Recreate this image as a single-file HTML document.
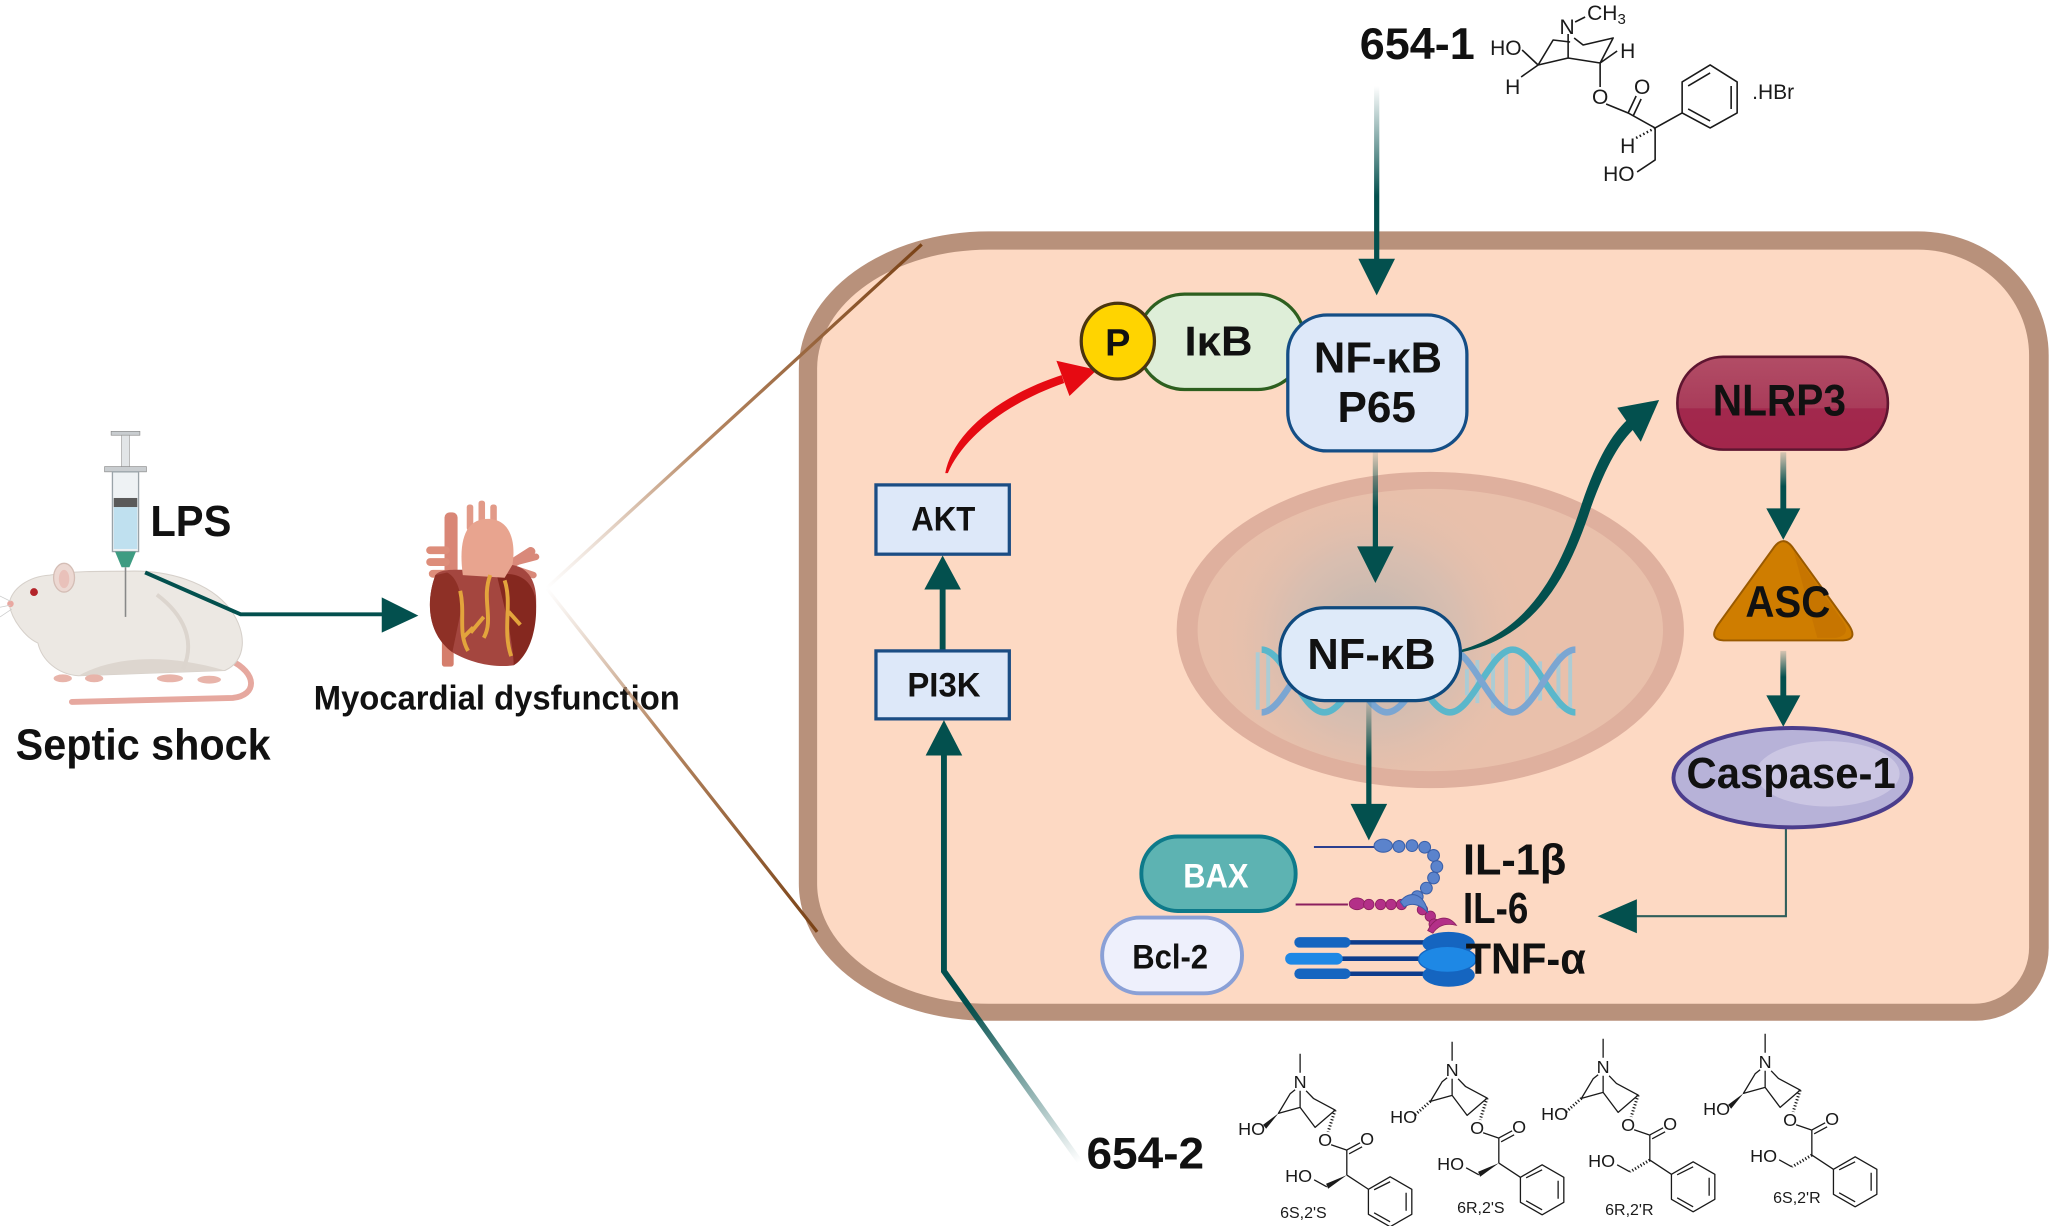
<!DOCTYPE html>
<html>
<head>
<meta charset="utf-8">
<style>
html,body{margin:0;padding:0;background:#fff;overflow:hidden;}
svg{display:block;}
.b{font-family:"Liberation Sans",Arial,sans-serif;font-weight:bold;fill:#111;}
.c{font-family:"Liberation Sans",Arial,sans-serif;fill:#1a1a1a;}
</style>
</head>
<body>
<svg xmlns="http://www.w3.org/2000/svg" width="2050" height="1226" viewBox="0 0 1568 938" preserveAspectRatio="none">
<defs>
<linearGradient id="g1" gradientUnits="userSpaceOnUse" x1="0" y1="66" x2="0" y2="150"><stop offset="0" stop-color="#03504e" stop-opacity="0"/><stop offset="1" stop-color="#03504e"/></linearGradient>
<linearGradient id="gP" gradientUnits="userSpaceOnUse" x1="0" y1="346" x2="0" y2="388"><stop offset="0" stop-color="#03504e" stop-opacity="0.1"/><stop offset="1" stop-color="#03504e"/></linearGradient>
<linearGradient id="gN" gradientUnits="userSpaceOnUse" x1="0" y1="537" x2="0" y2="580"><stop offset="0" stop-color="#03504e" stop-opacity="0.1"/><stop offset="1" stop-color="#03504e"/></linearGradient>
<linearGradient id="gL" gradientUnits="userSpaceOnUse" x1="0" y1="346" x2="0" y2="372"><stop offset="0" stop-color="#03504e" stop-opacity="0.15"/><stop offset="1" stop-color="#03504e"/></linearGradient>
<linearGradient id="gA" gradientUnits="userSpaceOnUse" x1="0" y1="498" x2="0" y2="518"><stop offset="0" stop-color="#03504e" stop-opacity="0.15"/><stop offset="1" stop-color="#03504e"/></linearGradient>
<linearGradient id="g2" gradientUnits="userSpaceOnUse" x1="826" y1="889" x2="740" y2="768"><stop offset="0" stop-color="#03504e" stop-opacity="0"/><stop offset="1" stop-color="#03504e"/></linearGradient>
<linearGradient id="br1" gradientUnits="userSpaceOnUse" x1="418" y1="450" x2="705" y2="187"><stop offset="0" stop-color="#c9a58a" stop-opacity="0"/><stop offset="0.4" stop-color="#b88a66"/><stop offset="1" stop-color="#7a4216"/></linearGradient>
<linearGradient id="br2" gradientUnits="userSpaceOnUse" x1="418" y1="450" x2="625" y2="713"><stop offset="0" stop-color="#c9a58a" stop-opacity="0"/><stop offset="0.4" stop-color="#b88a66"/><stop offset="1" stop-color="#7a4216"/></linearGradient>
<radialGradient id="glow" gradientUnits="userSpaceOnUse" cx="1050" cy="490" r="125"><stop offset="0" stop-color="#b5b4b2" stop-opacity="0.95"/><stop offset="0.55" stop-color="#c9bcb4" stop-opacity="0.5"/><stop offset="1" stop-color="#e8bfab" stop-opacity="0"/></radialGradient>
<linearGradient id="nl" x1="0" y1="0" x2="0" y2="1"><stop offset="0" stop-color="#b24d66"/><stop offset="0.55" stop-color="#a93c5a"/><stop offset="0.56" stop-color="#a2284d"/><stop offset="1" stop-color="#a2264b"/></linearGradient>
</defs>

<!-- ============ LEFT: rat, syringe, heart ============ -->
<path d="M176,505 C197,515 197,532 178,534 L55,537" fill="none" stroke="#e6a89f" stroke-width="4.5" stroke-linecap="round"/>
<path d="M7,462 C9,450 22,441 38,440 C55,437 75,437 98,437 C128,436 160,445 176,466 C190,485 188,506 172,513 L60,517 C44,516 32,505 29,492 C20,488 9,475 7,462Z" fill="#ece8e3" stroke="#d6d0ca" stroke-width="0.8"/>
<path d="M60,517 C85,503 125,499 172,513 Z" fill="#ddd6cf"/>
<path d="M120,455 C140,470 150,490 140,512" fill="none" stroke="#dcd5ce" stroke-width="3"/>
<ellipse cx="48" cy="519" rx="7" ry="3" fill="#e8b4aa"/>
<ellipse cx="72" cy="519" rx="7" ry="3" fill="#e8b4aa"/>
<ellipse cx="130" cy="519" rx="10" ry="3" fill="#e8b4aa"/>
<ellipse cx="160" cy="520" rx="9" ry="3" fill="#e8b4aa"/>
<ellipse cx="49" cy="442" rx="8" ry="11" fill="#ecd8d2" stroke="#d4bdb5" stroke-width="1"/>
<ellipse cx="49" cy="443" rx="4" ry="7" fill="#e9c1ba"/>
<circle cx="26" cy="453" r="3" fill="#b3242a"/>
<circle cx="8" cy="462" r="2.5" fill="#e9a7a0"/>
<path d="M8,460 L-2,455 M8,463 L-2,465 M9,466 L0,472" stroke="#ccc" stroke-width="0.6"/>

<!-- syringe -->
<rect x="85" y="330" width="22" height="3" fill="#c9cdd0" stroke="#888" stroke-width="0.5"/>
<rect x="93" y="333" width="6" height="25" fill="#e2e5e7" stroke="#999" stroke-width="0.5"/>
<rect x="80" y="357" width="32" height="4" fill="#c9cdd0" stroke="#888" stroke-width="0.5"/>
<rect x="86" y="361" width="20" height="61" fill="#eef2f4" stroke="#9aa3a8" stroke-width="1"/>
<rect x="87" y="381" width="18" height="7" fill="#5a5a5a"/>
<rect x="87" y="388" width="18" height="32" fill="#bfe0ef"/>
<path d="M88,422 L104,422 L99,434 L93,434Z" fill="#3e9c82"/>
<line x1="96" y1="434" x2="96" y2="472" stroke="#888" stroke-width="1.2"/>

<!-- rat -> heart arrow -->
<polyline points="111,438 184,470 294,470" fill="none" stroke="#03504e" stroke-width="3"/>
<polygon points="292,457 320,471 292,484" fill="#03504e"/>

<!-- heart -->
<rect x="340" y="392" width="10" height="48" rx="4" fill="#d98676"/>
<rect x="357" y="386" width="5" height="20" rx="2" fill="#e29a88"/>
<rect x="366" y="383" width="5" height="20" rx="2" fill="#e29a88"/>
<rect x="375" y="386" width="5" height="20" rx="2" fill="#e29a88"/>
<rect x="326" y="418" width="18" height="6" rx="3" fill="#dd8d7a"/>
<rect x="326" y="427" width="18" height="6" rx="3" fill="#dd8d7a"/>
<rect x="328" y="436" width="16" height="6" rx="3" fill="#dd8d7a"/>
<rect x="338" y="486" width="9" height="24" rx="2" fill="#d57e6c"/>
<path d="M378,440 L406,422" stroke="#d9897a" stroke-width="7" stroke-linecap="round"/>
<path d="M395,430 L410,426 M396,436 L408,440" stroke="#d9897a" stroke-width="5" stroke-linecap="round"/>
<path d="M333,440 C325,462 328,486 346,499 C361,508 380,511 393,509 C405,500 411,478 410,456 C409,440 400,432 388,432 L360,436 C348,436 337,435 333,440Z" fill="#a4463f"/>
<path d="M333,440 C325,462 328,486 346,499 L352,470 C354,455 350,442 342,438Z" fill="#8e3026"/>
<path d="M380,440 C398,436 409,446 410,462 C411,485 403,503 393,509 C392,488 386,465 380,440Z" fill="#85281f"/>
<path d="M354,440 C350,410 358,397 373,397 C389,397 395,412 392,432 L386,442 Z" fill="#e8a48f"/>
<path d="M375,440 C368,458 378,474 370,488 M370,472 L360,484 M362,480 L354,488 M386,444 C392,462 384,482 391,502 M389,468 L398,478 M352,452 C356,470 350,484 358,498" fill="none" stroke="#e3a43c" stroke-width="3"/>

<!-- left labels -->
<text class="b" x="115" y="410" font-size="33" textLength="62" lengthAdjust="spacingAndGlyphs">LPS</text>
<text class="b" x="12" y="581" font-size="33" textLength="195" lengthAdjust="spacingAndGlyphs">Septic shock</text>
<text class="b" x="240" y="543" font-size="26" textLength="280" lengthAdjust="spacingAndGlyphs">Myocardial dysfunction</text>

<!-- ============ CELL ============ -->
<path d="M756,177 L1467,177 A100,95 0 0 1 1567,272 L1567,725 A56,56 0 0 1 1511,781 L756,781 A145,105 0 0 1 611,676 L611,282 A145,105 0 0 1 756,177Z" fill="#b8917b"/>
<path d="M756,191 L1467,191 A85,81 0 0 1 1552,272 L1552,725 A42,43 0 0 1 1510,768 L756,768 A131,92 0 0 1 625,676 L625,282 A131,91 0 0 1 756,191Z" fill="#fdd9c3"/>

<line x1="418" y1="450" x2="705" y2="187" stroke="url(#br1)" stroke-width="2.5"/>
<line x1="418" y1="450" x2="625" y2="713" stroke="url(#br2)" stroke-width="2.5"/>

<!-- nucleus -->
<ellipse cx="1094" cy="482" rx="194" ry="121" fill="#dfb09e"/>
<ellipse cx="1094" cy="482" rx="178" ry="108" fill="#e9c0ab"/>
<ellipse cx="1094" cy="482" rx="178" ry="108" fill="url(#glow)"/>

<!-- DNA -->
<g stroke="#9fd0df" stroke-width="3" opacity="0.8">
<line x1="962" y1="499" x2="962" y2="543"/><line x1="970" y1="500" x2="970" y2="542"/>
<line x1="1122" y1="512" x2="1122" y2="532"/><line x1="1130" y1="505" x2="1130" y2="538"/>
<line x1="1142" y1="500" x2="1142" y2="542"/><line x1="1152" y1="499" x2="1152" y2="543"/>
<line x1="1168" y1="501" x2="1168" y2="541"/><line x1="1178" y1="506" x2="1178" y2="536"/>
<line x1="1192" y1="500" x2="1192" y2="542"/><line x1="1201" y1="497" x2="1201" y2="545"/>
</g>
<path d="M965,497 C982,497 996,545 1013,545 S1044,497 1061,497 S1092,545 1109,545 S1140,497 1157,497 S1188,545 1205,545" fill="none" stroke="#5ab7cb" stroke-width="5"/>
<path d="M965,545 C982,545 996,497 1013,497 S1044,545 1061,545 S1092,497 1109,497 S1140,545 1157,545 S1188,497 1205,497" fill="none" stroke="#7ba6d2" stroke-width="5"/>

<!-- arrows (teal) -->
<line x1="1053" y1="66" x2="1053" y2="202" stroke="url(#g1)" stroke-width="4"/>
<polygon points="1039,198 1067,198 1053,226" fill="#03504e"/>
<line x1="1052" y1="346" x2="1052" y2="421" stroke="url(#gP)" stroke-width="4"/>
<polygon points="1038,418 1066,418 1052,446" fill="#03504e"/>
<line x1="1047" y1="537" x2="1047" y2="618" stroke="url(#gN)" stroke-width="4"/>
<polygon points="1033,615 1061,615 1047,643" fill="#03504e"/>
<line x1="1364" y1="346" x2="1364" y2="392" stroke="url(#gL)" stroke-width="4.5"/>
<polygon points="1351,389 1377,389 1364,413" fill="#03504e"/>
<line x1="1364" y1="498" x2="1364" y2="535" stroke="url(#gA)" stroke-width="4.5"/>
<polygon points="1351,532 1377,532 1364,556" fill="#03504e"/>
<line x1="721" y1="497" x2="721" y2="448" stroke="#03504e" stroke-width="4.5"/>
<polygon points="707,451 735,451 721,425" fill="#03504e"/>
<polyline points="826,889 722,743 722,575" fill="none" stroke="url(#g2)" stroke-width="4.5"/>
<polygon points="708,578 736,578 722,551" fill="#03504e"/>
<path d="M1118,497 C1172,482 1195,432 1210,385 C1222,350 1233,332 1245,321 L1251,327 C1239,338 1229,355 1217,388 C1201,437 1177,487 1118,499Z" fill="#03504e"/>
<polygon points="1269,306 1237,312 1255,338" fill="#03504e"/>
<polyline points="1366,634 1366,701 1250,701" fill="none" stroke="#2f5e5a" stroke-width="1.6"/>
<polygon points="1222,701 1252,688 1252,714" fill="#03504e"/>

<!-- red arrow -->
<path d="M723,362 C728,334 760,304 812,287 L814,293 C768,309 736,336 725,362Z" fill="#e60a12"/>
<polygon points="839,283 808,276 818,303" fill="#e60a12"/>

<!-- AKT / PI3K -->
<rect x="670" y="371" width="102" height="53" fill="#dde8f9" stroke="#1b4d84" stroke-width="2.5"/>
<text class="b" x="697" y="406" font-size="26" textLength="49" lengthAdjust="spacingAndGlyphs">AKT</text>
<rect x="670" y="498" width="102" height="52" fill="#dde8f9" stroke="#1b4d84" stroke-width="2.5"/>
<text class="b" x="694" y="533" font-size="26" textLength="56" lengthAdjust="spacingAndGlyphs">PI3K</text>

<!-- IkB, P, P65 -->
<rect x="870" y="225" width="128" height="73" rx="36" fill="#deeed8" stroke="#2d5f1f" stroke-width="2.5"/>
<text class="b" x="906" y="272" font-size="32" textLength="52" lengthAdjust="spacingAndGlyphs">IκB</text>
<ellipse cx="855" cy="261" rx="28" ry="29" fill="#ffd400" stroke="#4a3510" stroke-width="2.5"/>
<text class="b" x="855" y="272" font-size="29" text-anchor="middle">P</text>
<rect x="985" y="241" width="137" height="104" rx="30" fill="#dde8f9" stroke="#154e86" stroke-width="2.5"/>
<text class="b" x="1005" y="285" font-size="33" textLength="98" lengthAdjust="spacingAndGlyphs">NF-κB</text>
<text class="b" x="1023" y="323" font-size="33" textLength="60" lengthAdjust="spacingAndGlyphs">P65</text>

<!-- nucleus NF-kB -->
<rect x="979" y="465" width="138" height="71" rx="34" fill="#deeaf9" stroke="#0f4a7e" stroke-width="2.5"/>
<text class="b" x="1000" y="512" font-size="33" textLength="98" lengthAdjust="spacingAndGlyphs">NF-κB</text>

<!-- NLRP3 / ASC / Caspase -->
<rect x="1283" y="273" width="161" height="71" rx="35" fill="url(#nl)" stroke="#5e1530" stroke-width="2"/>
<text class="b" x="1310" y="318" font-size="34" textLength="102" lengthAdjust="spacingAndGlyphs">NLRP3</text>
<path d="M1356,420 Q1364,408 1372,420 L1414,478 Q1422,490 1408,490 L1320,490 Q1306,490 1314,478Z" fill="#cf7d00" stroke="#9a5a00" stroke-width="1.5"/>
<path d="M1372,422 L1410,476 Q1416,486 1404,488 L1390,488 Z" fill="#c26f00" opacity="0.6"/>
<text class="b" x="1335" y="472" font-size="34" textLength="65" lengthAdjust="spacingAndGlyphs">ASC</text>
<ellipse cx="1371" cy="595" rx="91" ry="38" fill="#b7b2d8" stroke="#4b3d8c" stroke-width="3"/>
<ellipse cx="1398" cy="592" rx="55" ry="25" fill="#cbc6e3"/>
<text class="b" x="1290" y="603" font-size="33" textLength="160" lengthAdjust="spacingAndGlyphs">Caspase-1</text>

<!-- BAX / Bcl-2 -->
<rect x="873" y="640" width="118" height="57" rx="28" fill="#5db3b2" stroke="#0e7a8a" stroke-width="3"/>
<text class="b" x="905" y="679" font-size="26" textLength="50" lengthAdjust="spacingAndGlyphs" style="fill:#fff">BAX</text>
<rect x="843" y="702" width="107" height="58" rx="29" fill="#eef0fc" stroke="#8aa0d6" stroke-width="3"/>
<text class="b" x="866" y="741" font-size="26" textLength="58" lengthAdjust="spacingAndGlyphs">Bcl-2</text>

<!-- cytokines -->
<line x1="1005" y1="648" x2="1053" y2="648" stroke="#2a3f8f" stroke-width="1.5"/>
<g fill="#5b83cc" stroke="#3a5fa8" stroke-width="0.8">
<ellipse cx="1058" cy="647" rx="7" ry="5"/>
<circle cx="1070" cy="647.6" r="4.5"/><circle cx="1080" cy="647" r="4.5"/><circle cx="1089.7" cy="648.2" r="4.5"/>
<circle cx="1096.5" cy="654.5" r="4.5"/><circle cx="1099" cy="663" r="4.5"/><circle cx="1096.5" cy="671.7" r="4.5"/>
<circle cx="1091" cy="679.5" r="4.5"/><circle cx="1084" cy="686" r="4.5"/>
</g>
<line x1="991" y1="692" x2="1031" y2="692" stroke="#8b1f5e" stroke-width="1.5"/>
<g fill="#b33088" stroke="#8b1f5e" stroke-width="0.6">
<ellipse cx="1038" cy="691.5" rx="6" ry="4.5"/>
<circle cx="1047" cy="692" r="4"/><circle cx="1056" cy="692" r="4"/><circle cx="1064" cy="692" r="4"/><circle cx="1072" cy="692" r="4"/>
<circle cx="1088" cy="696" r="4"/><circle cx="1094" cy="701" r="4"/><circle cx="1097" cy="707" r="4"/>
<path d="M1092,712 C1098,700 1108,700 1114,708 C1106,706 1100,708 1096,714Z"/>
</g>
<path d="M1071,690 C1078,680 1090,684 1092,698 C1086,692 1080,690 1074,694Z" fill="#5b83cc" stroke="#3a5fa8" stroke-width="0.8"/>
<g>
<line x1="1030" y1="721" x2="1095" y2="721" stroke="#0d3c8c" stroke-width="3.5"/>
<line x1="1025" y1="733.5" x2="1095" y2="733.5" stroke="#0d3c8c" stroke-width="3.5"/>
<line x1="1030" y1="745" x2="1095" y2="745" stroke="#0d3c8c" stroke-width="3.5"/>
<rect x="990" y="717" width="43" height="8" rx="4" fill="#1565c0"/>
<rect x="983" y="729" width="44" height="9" rx="4.5" fill="#1e88e5"/>
<rect x="990" y="741" width="43" height="8" rx="4" fill="#1565c0"/>
<ellipse cx="1108" cy="722" rx="20" ry="9" fill="#1565c0"/>
<ellipse cx="1108" cy="746" rx="20" ry="9" fill="#1565c0"/>
<ellipse cx="1107" cy="734" rx="22" ry="10" fill="#1e88e5" stroke="#1565c0" stroke-width="1"/>
</g>
<text class="b" x="1119" y="669" font-size="33" textLength="79" lengthAdjust="spacingAndGlyphs">IL-1β</text>
<text class="b" x="1119" y="706" font-size="33" textLength="50" lengthAdjust="spacingAndGlyphs">IL-6</text>
<text class="b" x="1121" y="745" font-size="33" textLength="92" lengthAdjust="spacingAndGlyphs">TNF-α</text>

<text class="b" x="1040" y="45" font-size="34" textLength="88" lengthAdjust="spacingAndGlyphs">654-1</text>
<text class="b" x="831" y="894" font-size="34" textLength="90" lengthAdjust="spacingAndGlyphs">654-2</text>

<!-- ============ chemical structures (original coords) ============ -->
<g transform="scale(0.76494)">
 <g fill="none" stroke="#1a1a1a" stroke-width="1.6" stroke-linejoin="round">
  <path d="M1522,50 L1538,65 L1521,77 M1538,65 L1553,40 L1570,42 M1568,34 L1568,58 M1538,65 L1568,58 L1600,63 M1574,38 L1583,45 L1613,38 L1600,63 L1617,51 M1600,63 L1600,87 M1606,104 L1628,113 L1636,96 M1633,116 L1641,99 M1628,113 L1655,128 L1655,160 L1637,172 M1655,128 L1682,113 M1575,22 L1585,17"/>
  <path d="M1682,113 L1682,82 L1710,65 L1737,82 L1737,113 L1710,128 Z M1688,86 L1710,73 M1731,86 L1731,109 M1710,121 L1688,109"/>
  <path d="M1655,128 L1636,138" stroke-dasharray="1.5,2.5" stroke-width="2.5"/>
 </g>
 <g class="c" font-size="21">
  <text x="1490" y="55">HO</text>
  <text x="1567" y="34" text-anchor="middle">N</text>
  <text x="1587" y="20">CH<tspan font-size="15" dy="4">3</tspan></text>
  <text x="1620" y="58">H</text>
  <text x="1505" y="94">H</text>
  <text x="1600" y="104" text-anchor="middle">O</text>
  <text x="1642" y="94" text-anchor="middle">O</text>
  <text x="1620" y="153">H</text>
  <text x="1603" y="181">HO</text>
  <text x="1752" y="99">.HBr</text>
 </g>

 <g transform="translate(1300,1082)">
  <g fill="none" stroke="#1a1a1a" stroke-width="1.3" stroke-linejoin="round">
   <path d="M0,-28 L0,-9 M-5,8 L-10,12 L-21.7,31.6 L0,25.6 L0,9 M0,25.6 L15,45.6 L35,28.3 L13.3,16.6 L6,9 M31,63 L46.7,68.3 L46.7,93.3 M47,68 L60,61 M49,72 L62,65 M46.7,93.3 L68.3,107.5 M26.7,105 L14,98"/>
   <path d="M68.3,107.5 L90,95 L111.7,107.5 L111.7,132.5 L90,145 L68.3,132.5Z M74,108 L90,100 M106,111 L106,129 M90,140 L74,131"/>
   <path d="M35,28.3 L28,50" stroke-dasharray="1.2,2" stroke-width="3"/>
  </g>
  <polygon points="-21.7,31.6 -37,43 -34,47" fill="#1a1a1a"/>
  <polygon points="46.7,93.3 26,102 28,107" fill="#1a1a1a"/>
  <g class="c" font-size="18"><text x="0" y="6" text-anchor="middle">N</text><text x="-62" y="53">HO</text><text x="25" y="64" text-anchor="middle">O</text><text x="67" y="63" text-anchor="middle">O</text><text x="-15" y="100">HO</text></g>
 </g>
 <g transform="translate(1452,1070)">
  <g fill="none" stroke="#1a1a1a" stroke-width="1.3" stroke-linejoin="round">
   <path d="M0,-28 L0,-9 M-5,8 L-10,12 L-21.7,31.6 L0,25.6 L0,9 M0,25.6 L15,45.6 L35,28.3 L13.3,16.6 L6,9 M31,63 L46.7,68.3 L46.7,93.3 M47,68 L60,61 M49,72 L62,65 M46.7,93.3 L68.3,107.5 M26.7,105 L14,98"/>
   <path d="M68.3,107.5 L90,95 L111.7,107.5 L111.7,132.5 L90,145 L68.3,132.5Z M74,108 L90,100 M106,111 L106,129 M90,140 L74,131"/>
   <path d="M35,28.3 L28,50 M-21.7,31.6 L-37,45" stroke-dasharray="1.2,2" stroke-width="3"/>
  </g>
  <polygon points="46.7,93.3 26,102 28,107" fill="#1a1a1a"/>
  <g class="c" font-size="18"><text x="0" y="6" text-anchor="middle">N</text><text x="-62" y="53">HO</text><text x="25" y="64" text-anchor="middle">O</text><text x="67" y="63" text-anchor="middle">O</text><text x="-15" y="100">HO</text></g>
 </g>
 <g transform="translate(1603,1067)">
  <g fill="none" stroke="#1a1a1a" stroke-width="1.3" stroke-linejoin="round">
   <path d="M0,-28 L0,-9 M-5,8 L-10,12 L-21.7,31.6 L0,25.6 L0,9 M0,25.6 L15,45.6 L35,28.3 L13.3,16.6 L6,9 M31,63 L46.7,68.3 L46.7,93.3 M47,68 L60,61 M49,72 L62,65 M46.7,93.3 L68.3,107.5 M26.7,105 L14,98"/>
   <path d="M68.3,107.5 L90,95 L111.7,107.5 L111.7,132.5 L90,145 L68.3,132.5Z M74,108 L90,100 M106,111 L106,129 M90,140 L74,131"/>
   <path d="M35,28.3 L28,50 M-21.7,31.6 L-37,45 M46.7,93.3 L27,105" stroke-dasharray="1.2,2" stroke-width="3"/>
  </g>
  <g class="c" font-size="18"><text x="0" y="6" text-anchor="middle">N</text><text x="-62" y="53">HO</text><text x="25" y="64" text-anchor="middle">O</text><text x="67" y="63" text-anchor="middle">O</text><text x="-15" y="100">HO</text></g>
 </g>
 <g transform="translate(1765,1062)">
  <g fill="none" stroke="#1a1a1a" stroke-width="1.3" stroke-linejoin="round">
   <path d="M0,-28 L0,-9 M-5,8 L-10,12 L-21.7,31.6 L0,25.6 L0,9 M0,25.6 L15,45.6 L35,28.3 L13.3,16.6 L6,9 M31,63 L46.7,68.3 L46.7,93.3 M47,68 L60,61 M49,72 L62,65 M46.7,93.3 L68.3,107.5 M26.7,105 L14,98"/>
   <path d="M68.3,107.5 L90,95 L111.7,107.5 L111.7,132.5 L90,145 L68.3,132.5Z M74,108 L90,100 M106,111 L106,129 M90,140 L74,131"/>
   <path d="M35,28.3 L28,50 M46.7,93.3 L27,105" stroke-dasharray="1.2,2" stroke-width="3"/>
  </g>
  <polygon points="-21.7,31.6 -37,43 -34,47" fill="#1a1a1a"/>
  <g class="c" font-size="18"><text x="0" y="6" text-anchor="middle">N</text><text x="-62" y="53">HO</text><text x="25" y="64" text-anchor="middle">O</text><text x="67" y="63" text-anchor="middle">O</text><text x="-15" y="100">HO</text></g>
 </g>
 <g class="c" font-size="16">
  <text x="1280" y="1218">6S,2'S</text>
  <text x="1457" y="1213">6R,2'S</text>
  <text x="1605" y="1215">6R,2'R</text>
  <text x="1773" y="1203">6S,2'R</text>
 </g>
</g>
</svg>
</body>
</html>
